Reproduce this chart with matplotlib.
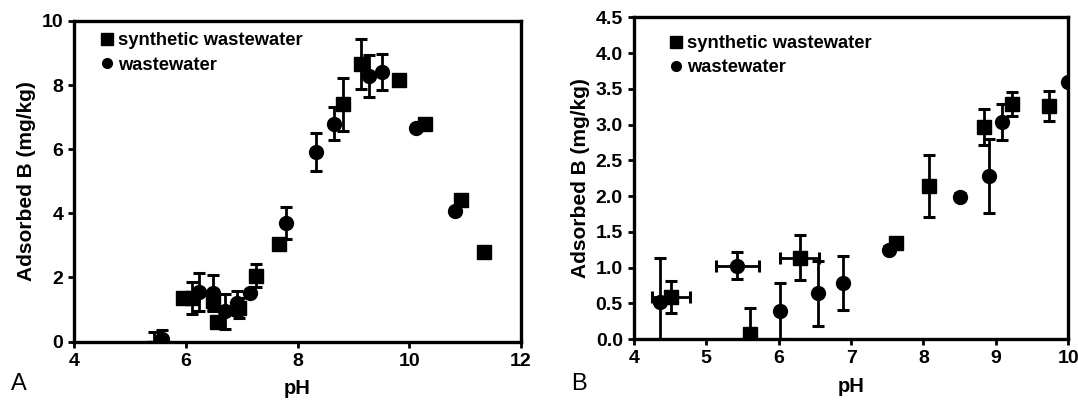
import matplotlib
matplotlib.use("Agg")
import matplotlib.pyplot as plt
from matplotlib.lines import Line2D

plt.rcParams["font.family"] = ["Liberation Sans", "DejaVu Sans"]
plt.rcParams["font.weight"] = "bold"

# Panel A: adsorbed boron vs pH
a_syn_ph = [5.42, 5.94, 6.10, 6.48, 6.56, 6.95, 7.26, 7.66, 8.81, 9.13, 9.81, 10.28, 10.93, 11.35]
a_syn_b = [-0.2, 1.35, 1.37, 1.28, 0.62, 1.05, 2.06, 3.03, 7.40, 8.65, 8.15, 6.80, 4.41, 2.78]
a_syn_err = [0.5, 0.0, 0.5, 0.3, 0.0, 0.3, 0.37, 0.0, 0.82, 0.78, 0.0, 0.0, 0.0, 0.0]

a_ww_ph = [5.57, 6.24, 6.48, 6.70, 6.92, 7.15, 7.79, 8.33, 8.66, 9.28, 9.52, 10.12, 10.82]
a_ww_b = [0.07, 1.54, 1.52, 0.95, 1.20, 1.51, 3.69, 5.91, 6.80, 8.28, 8.41, 6.67, 4.07]
a_ww_err = [0.28, 0.6, 0.56, 0.55, 0.37, 0.0, 0.5, 0.6, 0.5, 0.65, 0.56, 0.0, 0.0]

# Panel B
b_syn_ph = [4.51, 5.61, 6.29, 7.62, 8.07, 8.83, 9.22, 9.73]
b_syn_b = [0.59, 0.07, 1.14, 1.34, 2.14, 2.97, 3.29, 3.26]
b_syn_err = [0.23, 0.36, 0.31, 0.0, 0.43, 0.25, 0.17, 0.21]
b_syn_xerr = [0.26, 0.0, 0.27, 0.0, 0.0, 0.0, 0.0, 0.0]

b_ww_ph = [4.36, 5.43, 6.02, 6.54, 6.89, 7.53, 8.51, 8.91, 9.09, 9.99]
b_ww_b = [0.52, 1.03, 0.40, 0.64, 0.79, 1.25, 1.99, 2.28, 3.04, 3.60]
b_ww_err = [0.62, 0.19, 0.39, 0.45, 0.38, 0.05, 0.05, 0.52, 0.25, 0.0]
b_ww_xerr = [0.0, 0.30, 0.0, 0.0, 0.0, 0.0, 0.0, 0.0, 0.0, 0.0]

fig = plt.figure(figsize=(10.78, 4.01), dpi=100)
axA = fig.add_axes([0.069, 0.148, 0.414, 0.800])
axB = fig.add_axes([0.588, 0.154, 0.403, 0.803])

eb = dict(ls="none", color="black", ecolor="black", elinewidth=2.0,
          capsize=4, capthick=2.2)


def style(ax, anchor):
    for sp in ax.spines.values():
        sp.set_linewidth(2.4)
    ax.tick_params(direction="out", width=2, length=4, labelsize=14, pad=4)
    for lab in ax.get_xticklabels() + ax.get_yticklabels():
        lab.set_fontweight("bold")
    ax.set_xlabel("pH", fontsize=14.5, fontweight="bold", labelpad=7)
    handles = [
        Line2D([], [], marker="s", ls="none", color="black", markersize=8),
        Line2D([], [], marker="o", ls="none", color="black", markersize=7),
    ]
    ax.legend(handles, ["synthetic wastewater", "wastewater"], loc="upper left",
              frameon=False, handletextpad=0.1, handlelength=1.0,
              borderaxespad=0.4, labelspacing=0.4,
              prop={"size": 13.2, "weight": "bold"}, bbox_to_anchor=anchor)


ax = axA
ax.errorbar(a_syn_ph, a_syn_b, yerr=a_syn_err, marker="s", markersize=10, **eb)
ax.errorbar(a_ww_ph, a_ww_b, yerr=a_ww_err, marker="o", markersize=10, **eb)
ax.set_xlim(4, 12)
ax.set_ylim(0, 10)
ax.set_xticks([4, 6, 8, 10, 12])
ax.set_yticks([0, 2, 4, 6, 8, 10])
ax.set_ylabel("Adsorbed B (mg/kg)", fontsize=15, fontweight="bold", labelpad=4)
style(ax, (0.02, 1.01))

ax = axB
ax.errorbar(b_syn_ph, b_syn_b, yerr=b_syn_err, xerr=b_syn_xerr, marker="s", markersize=10, **eb)
ax.errorbar(b_ww_ph, b_ww_b, yerr=b_ww_err, xerr=b_ww_xerr, marker="o", markersize=10, **eb)
ax.set_xlim(4, 10)
ax.set_ylim(0, 4.5)
ax.set_xticks([4, 5, 6, 7, 8, 9, 10])
ax.set_yticks([0, 0.5, 1, 1.5, 2, 2.5, 3, 3.5, 4, 4.5])
ax.set_yticklabels([f"{v:.1f}" for v in [0, 0.5, 1, 1.5, 2, 2.5, 3, 3.5, 4, 4.5]])
ax.set_ylabel("Adsorbed B (mg/kg)", fontsize=15, fontweight="bold", labelpad=4)
style(ax, (0.043, 0.99))

fig.text(0.010, 0.028, "A", fontsize=17, fontweight="normal")
fig.text(0.530, 0.028, "B", fontsize=17, fontweight="normal")

fig.savefig("out.png", dpi=100)
